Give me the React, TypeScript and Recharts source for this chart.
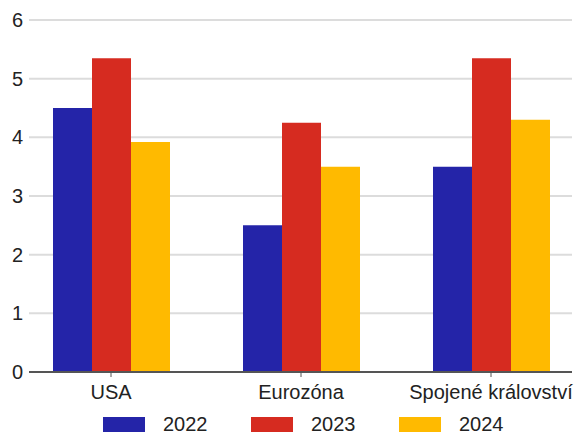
import { Bar, BarChart, CartesianGrid, Legend, XAxis, YAxis } from "recharts";

const CATEGORIES = ["USA", "Eurozóna", "Spojené království"];
const SERIES_2022 = [4.5, 2.5, 3.5];
const SERIES_2023 = [5.35, 4.25, 5.35];
const SERIES_2024 = [3.92, 3.5, 4.3];
const Y_TICKS = [0, 1, 2, 3, 4, 5, 6];

const SERIES = [
  { key: "y2022", name: "2022", color: "#2424a8" },
  { key: "y2023", name: "2023", color: "#d62b20" },
  { key: "y2024", name: "2024", color: "#ffba00" },
];

const data = CATEGORIES.map((name, i) => ({
  name,
  y2022: SERIES_2022[i],
  y2023: SERIES_2023[i],
  y2024: SERIES_2024[i],
}));

const FONT = "'Liberation Sans', Arial, sans-serif";

const renderLegend = () => (
  <div
    style={{
      display: "flex",
      boxSizing: "border-box",
      height: 31,
      paddingTop: 13,
      paddingLeft: 103,
      alignItems: "flex-start",
      fontFamily: FONT,
      fontSize: 20,
      color: "#222",
    }}
  >
    {SERIES.map((s) => (
      <div
        key={s.key}
        style={{ display: "flex", alignItems: "center", width: 148, height: 18 }}
      >
        <span
          style={{ width: 42, height: 15, background: s.color, marginRight: 18 }}
        />
        <span style={{ lineHeight: "18px", whiteSpace: "nowrap" }}>{s.name}</span>
      </div>
    ))}
  </div>
);

export default function App() {
  return (
    <div style={{ position: "absolute", left: 0, top: 0 }}>
      <BarChart
        width={579}
        height={433}
        data={data}
        margin={{ top: 20, right: 7, bottom: 0, left: 0 }}
        barCategoryGap={37}
        barGap={0}
      >
        <CartesianGrid vertical={false} stroke="#dcdcdc" strokeWidth={2} />
        <XAxis
          dataKey="name"
          height={30}
          padding={{ left: -13, right: -14 }}
          axisLine={{ stroke: "#555", strokeWidth: 2 }}
          tickLine={{ stroke: "#555" }}
          tickSize={5}
          tickMargin={8}
          tick={{ fill: "#222", fontSize: 20, fontFamily: FONT }}
          interval={0}
        />
        <YAxis
          width={29}
          domain={[0, 6]}
          ticks={Y_TICKS}
          axisLine={false}
          tickLine={false}
          tickSize={6}
          tickMargin={0}
          tick={{ fill: "#222", fontSize: 20, fontFamily: FONT }}
        />
        <Legend verticalAlign="bottom" content={renderLegend} wrapperStyle={{ left: 0, width: 579 }} />
        {SERIES.map((s) => (
          <Bar
            key={s.key}
            dataKey={s.key}
            name={s.name}
            fill={s.color}
            isAnimationActive={false}
          />
        ))}
      </BarChart>
    </div>
  );
}
